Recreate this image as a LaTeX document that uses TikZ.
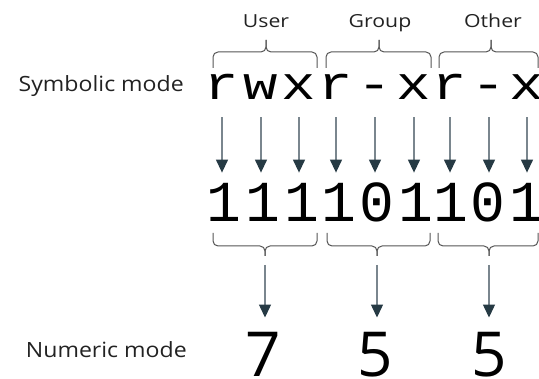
\documentclass[tikz,border=0pt]{standalone}
\usepackage{fontspec}
\setmainfont{Open Sans}
\newfontfamily\lblfont[FakeStretch=1.1]{Open Sans}
\newfontfamily\grpfont[FakeStretch=1.18]{Open Sans}
\newfontfamily\monofont[FakeStretch=1.22]{Liberation Mono}
\newfontfamily\bitfont{Liberation Mono}
\usetikzlibrary{arrows.meta}
\definecolor{shaftcol}{HTML}{7A868E}
\definecolor{headcol}{HTML}{263A44}
\definecolor{txtcol}{HTML}{222222}
\definecolor{bracecol}{HTML}{555555}
\tikzset{
  lbl/.style={inner sep=0pt, anchor=base east, font=\lblfont\fontsize{21}{21}\selectfont, text=txtcol},
  grp/.style={inner sep=0pt, anchor=base, font=\grpfont\fontsize{18}{18}\selectfont, text=txtcol},
  sym/.style={inner sep=0pt, anchor=base, font=\monofont\fontsize{47}{47}\selectfont},
  bit/.style={inner sep=0pt, anchor=base, font=\bitfont\fontsize{58}{58}\selectfont},
  num/.style={inner sep=0pt, anchor=base, font=\fontsize{62}{62}\selectfont, text=black},
  arr/.style={draw=shaftcol, line width=1.3pt, -{Triangle[width=12pt,length=13pt,color=headcol,fill=headcol]}},
  bracestyle/.style={draw=bracecol, line width=1pt, rounded corners=5pt},
}
\begin{document}
\begin{tikzpicture}[x=1pt,y=-1pt]
\useasboundingbox (0,0) rectangle (539,379);
% labels
\node[lbl] (symlbl) at (184,92) {Symbolic mode};
\node[lbl] (numlbl) at (187,358) {Numeric mode};
% group labels
\node[grp] (user) at (266,28) {User};
\node[grp] (group) at (380,28) {Group};
\node[grp] (other) at (493,28) {Other};
% symbolic letters
\node[sym] (s1) at (222,100) {r};
\node[sym] (s2) at (261,100) {w};
\node[sym] (s3) at (299,100) {x};
\node[sym] (s4) at (336,100) {r};
\node[sym] (s5) at (375,100) {-};
\node[sym] (s6) at (414,100) {x};
\node[sym] (s7) at (450,100) {r};
\node[sym] (s8) at (489,100) {-};
\node[sym] (s9) at (527,100) {x};
% bits
\node[bit] (b1) at (224,222) {1};
\node[bit] (b2) at (263,222) {1};
\node[bit] (b3) at (302,222) {1};
\node[bit] (b4) at (339,222) {1};
\node[bit] (b5) at (377,222) {0};
\node[bit] (b6) at (416,222) {1};
\node[bit] (b7) at (451,222) {1};
\node[bit] (b8) at (488,222) {0};
\node[bit] (b9) at (527,222) {1};
% numbers
\node[num] (n1) at (263,377) {7};
\node[num] (n2) at (375,377) {5};
\node[num] (n3) at (489,377) {5};
% top braces
\foreach \xa/\xb/\xm in {213/317/266, 326/431/379, 439/538/491}{
  \draw[bracestyle] (\xa,68) -- (\xa,52) -- (\xm,52) -- (\xm,40);
  \draw[bracestyle] (\xb,68) -- (\xb,52) -- (\xm,52) -- (\xm,40);
}
% bottom braces
\foreach \xa/\xb/\xm in {213/317/265, 327/430/377, 438/538/489}{
  \draw[bracestyle] (\xa,233) -- (\xa,246) -- (\xm,246) -- (\xm,256);
  \draw[bracestyle] (\xb,233) -- (\xb,246) -- (\xm,246) -- (\xm,256);
}
\coordinate (t1) at (265,265);
\coordinate (t2) at (377,265);
\coordinate (t3) at (489,265);
% top arrows
\foreach \i in {1,...,9}{
  \draw[arr] ([yshift=-17pt]s\i.south) -- ([yshift=11pt]s\i.south |- b1.north);
}
% bottom arrows
\foreach \i in {1,2,3}{
  \draw[arr] (t\i) -- ([yshift=15pt]t\i |- n1.north);
}
\end{tikzpicture}
\end{document}
